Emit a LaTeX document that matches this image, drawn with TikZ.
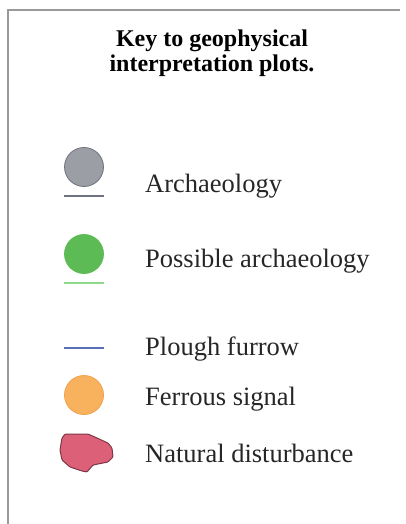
\documentclass[tikz,border=0pt]{standalone}
\usepackage{fontspec}
\setmainfont{Liberation Serif}
\usepackage{tikz}
\usetikzlibrary{positioning}
\usepackage{xcolor}
\definecolor{framegrey}{HTML}{9A9A9A}
\definecolor{archfill}{HTML}{9C9EA6}
\definecolor{archdraw}{HTML}{6E727C}
\definecolor{possfill}{HTML}{5CBB55}
\definecolor{possline}{HTML}{8ED98A}
\definecolor{ploughline}{HTML}{5870B8}
\definecolor{ferrfill}{HTML}{F8B25E}
\definecolor{ferrdraw}{HTML}{F0A048}
\definecolor{natfill}{HTML}{DC6078}
\definecolor{natdraw}{HTML}{7E3848}

\begin{document}
\begin{tikzpicture}[
    x=1pt, y=-1pt,
    symbol/.style={circle, draw, line width=0.8pt, minimum size=39pt, inner sep=0pt},
    keyline/.style={line width=2pt},
    entry/.style={anchor=base west, inner sep=0pt, font=\fontsize{26.5}{30}\selectfont, text=black!85},
    heading/.style={align=center, inner sep=0pt, font=\bfseries\fontsize{24}{25}\selectfont},
    frame/.style={framegrey, line width=1.6pt}
]
    \useasboundingbox (0,0) rectangle (406,524);
    \coordinate (corner) at (8,10);
    \coordinate (topend) at (400,10);
    \coordinate (leftend) at (8,524);
    \draw[frame] (topend) -- (corner) -- (leftend);

    \node[heading, anchor=base] (title) at (212,72) {Key to geophysical\\interpretation plots.};

    % symbols
    \node[symbol, fill=archfill, draw=archdraw] (arch) at (84,167) {};
    \coordinate (archL) at (64,196);
    \coordinate (archR) at (104,196);
    \draw[keyline, archdraw] (archL) -- (archR);

    \node[symbol, fill=possfill, draw=possfill] (poss) at (84,254) {};
    \coordinate (possL) at (64,283);
    \coordinate (possR) at (104,283);
    \draw[keyline, possline, line width=1.5pt] (possL) -- (possR);

    \coordinate (ploughL) at (64,348);
    \coordinate (ploughR) at (104,348);
    \draw[keyline, ploughline] (ploughL) -- (ploughR);

    \node[symbol, fill=ferrfill, draw=ferrdraw] (ferr) at (84,395) {};

    \draw[natdraw, fill=natfill, line width=1pt, rounded corners=1pt]
        (62,438) -- (65,434) -- (88,434) -- (97,438) -- (108,443) -- (112,448)
        -- (113,457) -- (108,462) -- (93,465) -- (87,472) -- (82,471)
        -- (70,467) -- (62,460) -- (60,450) -- cycle;

    % labels
    \node[entry] (archtext) at (145,192) {Archaeology};
    \node[entry] (posstext) at (145,267) {Possible archaeology};
    \node[entry] (ploughtext) at (145,355) {Plough furrow};
    \node[entry] (ferrtext) at (145,405) {Ferrous signal};
    \node[entry] (nattext) at (145,462) {Natural disturbance};
\end{tikzpicture}
\end{document}
